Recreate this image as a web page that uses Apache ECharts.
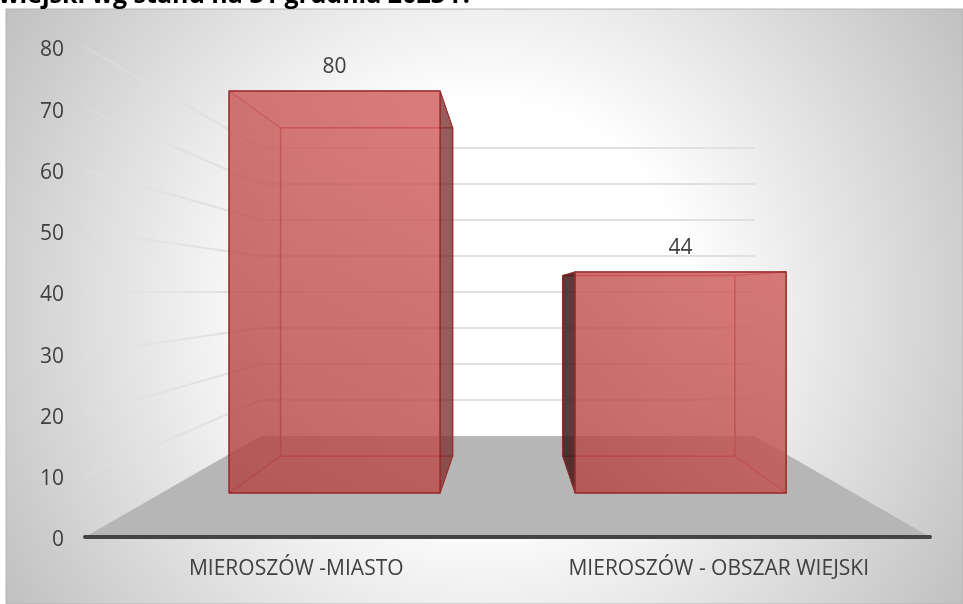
<!DOCTYPE html>
<html>
<head>
<meta charset="utf-8">
<style>html,body{margin:0;padding:0;background:#fff}#c{width:963px;height:604px}</style>
<script src="https://cdn.jsdelivr.net/npm/echarts@6/dist/echarts.min.js"></script>
</head>
<body>
<div id="c"></div>
<script>
const titleText = 'wiejski wg stanu na 31 grudnia 2023 r.';
const categories = ['MIEROSZÓW -MIASTO', 'MIEROSZÓW - OBSZAR WIEJSKI'];
const values = [80, 44];
const yTicks = [0, 10, 20, 30, 40, 50, 60, 70, 80];

const FONT = '"Open Sans"';
const TEXT = '#404040';
const V = [508, 292], KX = 0.4154, KY = 0.4122;
const D_FRONT = 0.436, D_BACK = 0.8, BAR_W = 0.61;

function project(p, d) {
  return [p[0] + (V[0] - p[0]) * KX * d, p[1] + (V[1] - p[1]) * KY * d];
}
function poly(points, fill, stroke, lw) {
  return {type: 'polygon', shape: {points}, style: {fill, stroke: stroke || 'none', lineWidth: lw || 0, lineJoin: 'round'}, silent: true};
}

function renderWall(params, api) {
  const cs = params.coordSys, tick = api.value(1);
  const y = api.coord([0, tick])[1];
  const L = [cs.x, y], R = [cs.x + cs.width, y];
  const bl = project(L, 1), br = project(R, 1);
  const kids = [];
  if (tick === 0) {
    kids.push(poly([L, R, br, bl], '#b6b6b6'));
  } else {
    kids.push({type: 'line', shape: {x1: L[0], y1: L[1], x2: bl[0], y2: bl[1]}, style: {lineWidth: 2, stroke: {
      type: 'linear', global: true, x: L[0], y: L[1], x2: bl[0], y2: bl[1],
      colorStops: [{offset: 0, color: 'rgba(226,226,226,0.35)'}, {offset: 1, color: 'rgba(220,220,220,1)'}]}}});
    kids.push({type: 'line', shape: {x1: bl[0], y1: bl[1], x2: br[0], y2: br[1]}, style: {stroke: '#e0e0e0', lineWidth: 2}});
  }
  return {type: 'group', children: kids};
}

function renderBar(params, api) {
  const i = api.value(0), v = api.value(1);
  const c = api.coord([i, v]), base = api.coord([i, 0]);
  const hw = api.size([1, 0])[0] * BAR_W / 2;
  const pt = (sx, top, d) => project([c[0] + sx * hw, top ? c[1] : base[1]], d);
  const f = {tl: pt(-1, 1, D_FRONT), tr: pt(1, 1, D_FRONT), bl: pt(-1, 0, D_FRONT), br: pt(1, 0, D_FRONT)};
  const b = {tl: pt(-1, 1, D_BACK), tr: pt(1, 1, D_BACK), bl: pt(-1, 0, D_BACK), br: pt(1, 0, D_BACK)};

  const edgeBack = 'rgba(190,72,72,0.9)', edgeFront = 'rgba(150,44,44,0.95)';
  const inner = 'rgba(170,60,60,0.3)';
  const outer = i === 0 ? 'rgba(120,50,50,0.72)' : 'rgba(61,20,20,0.8)';
  const leftOut = b.tl[0] < f.tl[0], rightOut = b.tr[0] > f.tr[0];

  const frontFill = {type: 'linear', global: true, x: f.bl[0], y: f.bl[1], x2: f.tr[0], y2: f.tr[1],
    colorStops: [{offset: 0, color: 'rgba(178,68,68,0.75)'}, {offset: 1, color: 'rgba(212,98,98,0.75)'}]};

  const kids = [
    poly([b.tl, b.tr, b.br, b.bl], 'rgba(192,80,77,0.3)', edgeBack, 1.5),
    poly([f.bl, f.br, b.br, b.bl], 'rgba(190,75,72,0.3)', edgeBack, 1),
    poly([f.tl, f.tr, b.tr, b.tl], 'rgba(192,80,77,0.3)', edgeBack, 1),
    poly([f.tl, b.tl, b.bl, f.bl], leftOut ? outer : inner, leftOut ? edgeFront : edgeBack, 1),
    poly([f.tr, b.tr, b.br, f.br], rightOut ? outer : inner, rightOut ? edgeFront : edgeBack, 1),
    poly([f.tl, f.tr, f.br, f.bl], frontFill, edgeFront, 1.5),
    {type: 'text', style: {text: String(v), x: (f.tl[0] + f.tr[0]) / 2, y: f.tl[1] - 24,
      fill: TEXT, font: '21px ' + FONT, align: 'center', verticalAlign: 'middle'}}
  ];
  return {type: 'group', children: kids};
}

const chart = echarts.init(document.getElementById('c'), null, {renderer: 'canvas'});
chart.setOption({
  animation: false,
  backgroundColor: '#ffffff',
  title: {text: titleText, right: 493, top: -17, padding: 0,
    textStyle: {fontFamily: FONT, fontWeight: 'bold', fontSize: 25, color: '#000000'}},
  graphic: [{type: 'rect', z: -10, silent: true, shape: {x: 6, y: 9, width: 957, height: 595},
    style: {stroke: '#b4b4b4', lineWidth: 1, fill: {type: 'radial', global: true, x: 484, y: 306, r: 565,
      colorStops: [{offset: 0, color: '#ffffff'}, {offset: 0.36, color: '#ffffff'}, {offset: 1, color: '#c0c0c0'}]}}}],
  grid: {left: 85, right: 33, top: 47, bottom: 67, containLabel: false},
  xAxis: {type: 'category', data: categories, z: 5,
    axisLine: {show: true, lineStyle: {color: '#444444', width: 4, cap: 'round'}},
    axisTick: {show: false}, splitLine: {show: false},
    axisLabel: {color: TEXT, fontFamily: FONT, fontSize: 21, margin: 22}},
  yAxis: {type: 'value', min: 0, max: 80, interval: 10,
    axisLine: {show: false}, axisTick: {show: false}, splitLine: {show: false},
    axisLabel: {color: TEXT, fontFamily: FONT, fontSize: 21, margin: 21, verticalAlign: 'top', lineHeight: 21, padding: [-7, 0, 0, 0]}},
  series: [
    {type: 'custom', name: 'walls', z: 1, silent: true, clip: false, renderItem: renderWall,
      encode: {x: 0, y: 1}, data: yTicks.map(t => [0, t])},
    {type: 'custom', name: 'bars', z: 3, silent: true, clip: false, renderItem: renderBar,
      encode: {x: 0, y: 1}, data: values.map((v, i) => [i, v])}
  ]
});
</script>
</body>
</html>
